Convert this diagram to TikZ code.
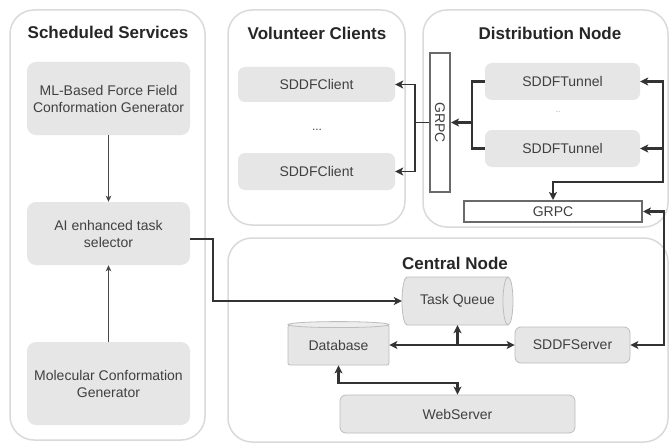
\documentclass[tikz,border=0pt]{standalone}
\usepackage{fontspec}
\setmainfont{Liberation Sans}
\usetikzlibrary{arrows.meta}
\definecolor{contline}{HTML}{DADADA}
\definecolor{boxfill}{HTML}{E6E6E6}
\definecolor{boxline}{HTML}{BDBDBD}
\definecolor{txt}{HTML}{404040}
\definecolor{ttl}{HTML}{262626}
\definecolor{wire}{HTML}{333333}
\definecolor{grpcline}{HTML}{6A6A6A}
\begin{document}
\begin{tikzpicture}[x=1pt,y=-1pt,
  container/.style={draw=contline,line width=1.5pt,rounded corners=24pt,fill=white},
  title/.style={font=\fontsize{17}{20}\selectfont\bfseries,text=ttl},
  box/.style={fill=boxfill,rounded corners=9pt,text=txt,font=\fontsize{14}{17}\selectfont,align=center,inner sep=0pt},
  cbox/.style={box,draw=boxline,line width=0.8pt,rounded corners=6pt},
  grpcbox/.style={draw=grpcline,line width=2pt,fill=white,text=txt,font=\fontsize{14}{17}\selectfont,inner sep=0pt},
  conn/.style={draw=wire,line width=2.4pt,>={Stealth[length=8pt,width=8pt,inset=2pt]}},
  connb/.style={conn,line width=1.9pt},
  thin/.style={draw=wire!90,line width=1.7pt,>={Stealth[length=6pt,width=5.5pt,inset=1.5pt]}}
]
\useasboundingbox (0,0) rectangle (670,444);
\fill[white] (0,0) rectangle (670,444);

% containers
\draw[container] (10,10) rectangle (205,440);
\draw[container] (228,10) rectangle (405,225);
\draw[container] (423,10) rectangle (668,227);
\draw[container] (228,238) rectangle (668,442);

\node[title] (tS) at (108,32) {Scheduled Services};
\node[title] (tV) at (317,33) {Volunteer Clients};
\node[title] (tD) at (550,33) {Distribution Node};
\node[title] (tC) at (455,263) {Central Node};

% scheduled services
\node[box,minimum width=163pt,minimum height=73pt] (ml) at (108.5,98.5) {ML-Based Force Field\\Conformation Generator};
\node[box,minimum width=163pt,minimum height=63pt] (ai) at (108.5,233.5) {AI enhanced task\\selector};
\node[box,minimum width=163pt,minimum height=83pt] (mol) at (108.5,383.5) {Molecular Conformation\\Generator};
\draw[thin,->] (ml.south) -- (ai.north);
\draw[thin,->] (mol.north) -- (ai.south);

% volunteer clients
\node[box,minimum width=157pt,minimum height=35pt,rounded corners=7pt] (c1) at (316.5,84.5) {SDDFClient};
\node[box,minimum width=157pt,minimum height=37pt,rounded corners=7pt] (c2) at (316.5,171.5) {SDDFClient};
\node[text=txt,font=\fontsize{12}{14}\selectfont] (cdots) at (317,130) {...};

% distribution node
\node[grpcbox,minimum width=20pt,minimum height=139pt] (g1) at (440,122.5) {};
\node[text=txt,font=\fontsize{14}{17}\selectfont,rotate=-90] (g1t) at (g1.center) {GRPC};
\node[box,minimum width=155pt,minimum height=37pt,rounded corners=7pt] (t1) at (562.5,81.5) {SDDFTunnel};
\node[box,minimum width=155pt,minimum height=37pt,rounded corners=7pt] (t2) at (562.5,148.5) {SDDFTunnel};
\node[text=txt!60,font=\fontsize{6}{7}\selectfont] (tdots) at (558,112) {...};
\node[grpcbox,minimum width=178pt,minimum height=21pt] (g2) at (553,211.5) {GRPC};

% central node: task queue drawn as a horizontal cylinder
\draw[draw=boxline,line width=0.8pt,fill=boxfill]
  (407,277) -- (508,277) arc (-90:90:5 and 24) -- (407,325) arc (90:270:5 and 24) -- cycle;
\draw[draw=boxline,line width=0.8pt] (508,277) arc (-90:-270:5 and 24);
\node[text=txt,font=\fontsize{14}{17}\selectfont,inner sep=0pt,minimum width=111pt,minimum height=48pt] (tq) at (457.5,301) {Task Queue};
\node[cbox,rounded corners=2pt,minimum width=101pt,minimum height=40pt] (db) at (338.5,345) {Database};
\draw[draw=boxline,line width=0.8pt,fill=boxfill!70!white] (db.north) ellipse (50.5pt and 3pt);
\node[cbox,minimum width=115pt,minimum height=36pt] (srv) at (572.5,345) {SDDFServer};
\node[cbox,minimum width=235pt,minimum height=38pt] (web) at (457.5,414) {WebServer};

% connector helper points
\coordinate (k1) at (213,239);
\coordinate (b1) at (415,122.5);
\coordinate (b2) at (472,122.5);
\coordinate (b3) at (663,182);
\coordinate (b4) at (664,211.5);
\coordinate (b5) at (457.5,345);
\coordinate (b6) at (457.5,383);

% connectors
\draw[conn,->] ([yshift=-5.5pt]ai.east) -- (k1) |- (tq.west);
\draw[connb] (g1.west) -- (b1);
\draw[connb,->] (b1) |- (c1.east);
\draw[connb,->] (b1) |- (c2.east);
\draw[conn] (t1.west) -| (b2);
\draw[conn] (t2.west) -| (b2);
\draw[conn,->] (b2) -- (g1.east);
\draw[conn,<->] (t1.east) -| (b3) -| (g2.north);
\draw[conn,->] (b3 |- t2.east) -- (t2.east);
\draw[conn,<->] (g2.east) -- (b4) |- (srv.east);
\draw[conn,<->] (db.east) -- (srv.west);
\draw[conn,->] (b5) -- (tq.south);
\draw[conn,<->] (db.south) |- (b6) -- (web.north);
\end{tikzpicture}
\end{document}
